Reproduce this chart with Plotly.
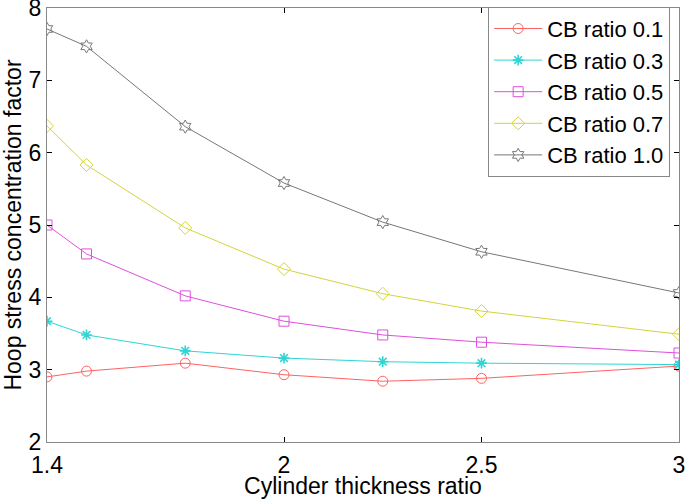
import plotly.graph_objects as go

x = [1.4, 1.5, 1.75, 2.0, 2.25, 2.5, 3.0]
cb01 = [2.90, 2.98, 3.09, 2.93, 2.84, 2.88, 3.05]
cb03 = [3.67, 3.48, 3.26, 3.16, 3.11, 3.09, 3.07]
cb05 = [5.00, 4.60, 4.02, 3.67, 3.48, 3.38, 3.23]
cb07 = [6.37, 5.83, 4.96, 4.39, 4.05, 3.81, 3.49]
cb10 = [7.71, 7.47, 6.36, 5.58, 5.04, 4.63, 4.06]

names = ["CB ratio 0.1", "CB ratio 0.3", "CB ratio 0.5", "CB ratio 0.7", "CB ratio 1.0"]
series = [cb01, cb03, cb05, cb07, cb10]
colors = ["#ff6262", "#30d4d4", "#dd50dd", "#d4d43c", "#777777"]
symbols = ["circle-open", "asterisk-open", "square-open", "diamond-open", "hexagram-open"]
msizes = [10, 9, 10, 10, 10]
mwidths = [1, 1.6, 1, 1, 1]

fig = go.Figure()
for n, s, c, m, ms, mw in zip(names, series, colors, symbols, msizes, mwidths):
    fig.add_trace(go.Scatter(
        x=x, y=s, name=n, mode="lines+markers",
        line=dict(color=c, width=1),
        marker=dict(symbol=m, size=ms, color=c, line=dict(color=c, width=mw)),
    ))

FONT = "Liberation Sans, Arial"
axis_common = dict(
    showline=True, linecolor="#888888", linewidth=1, mirror="ticks",
    ticks="inside", ticklen=5, tickcolor="black", showgrid=False, zeroline=False,
    tickfont=dict(family=FONT, size=23, color="black"),
    automargin=False, ticklabeloverflow="allow",
)

fig.update_layout(
    width=685, height=499,
    margin=dict(l=47, r=6, t=8, b=57),
    paper_bgcolor="white", plot_bgcolor="white",
    font=dict(family=FONT, color="black"),
    xaxis=dict(range=[1.4, 3.0], tickvals=[1.4, 2, 2.5, 3], ticktext=["1.4", "2", "2.5", "3"],
               ticklabelstandoff=2,
               title=dict(text="Cylinder thickness ratio", font=dict(size=23), standoff=4),
               **axis_common),
    yaxis=dict(range=[2, 8], tickvals=[2, 3, 4, 5, 6, 7, 8],
               title=dict(text="Hoop stress concentration factor", font=dict(size=23), standoff=4),
               **axis_common),
    legend=dict(x=0.986, y=1.003, xanchor="right", yanchor="top",
                bgcolor="white", bordercolor="#888888", borderwidth=1,
                font=dict(size=22, family=FONT),
                tracegroupgap=0, itemwidth=48),
)

fig.write_html("out.html", config={"displayModeBar": False},
               post_script="document.body.style.margin='0';document.body.style.overflow='hidden';")
